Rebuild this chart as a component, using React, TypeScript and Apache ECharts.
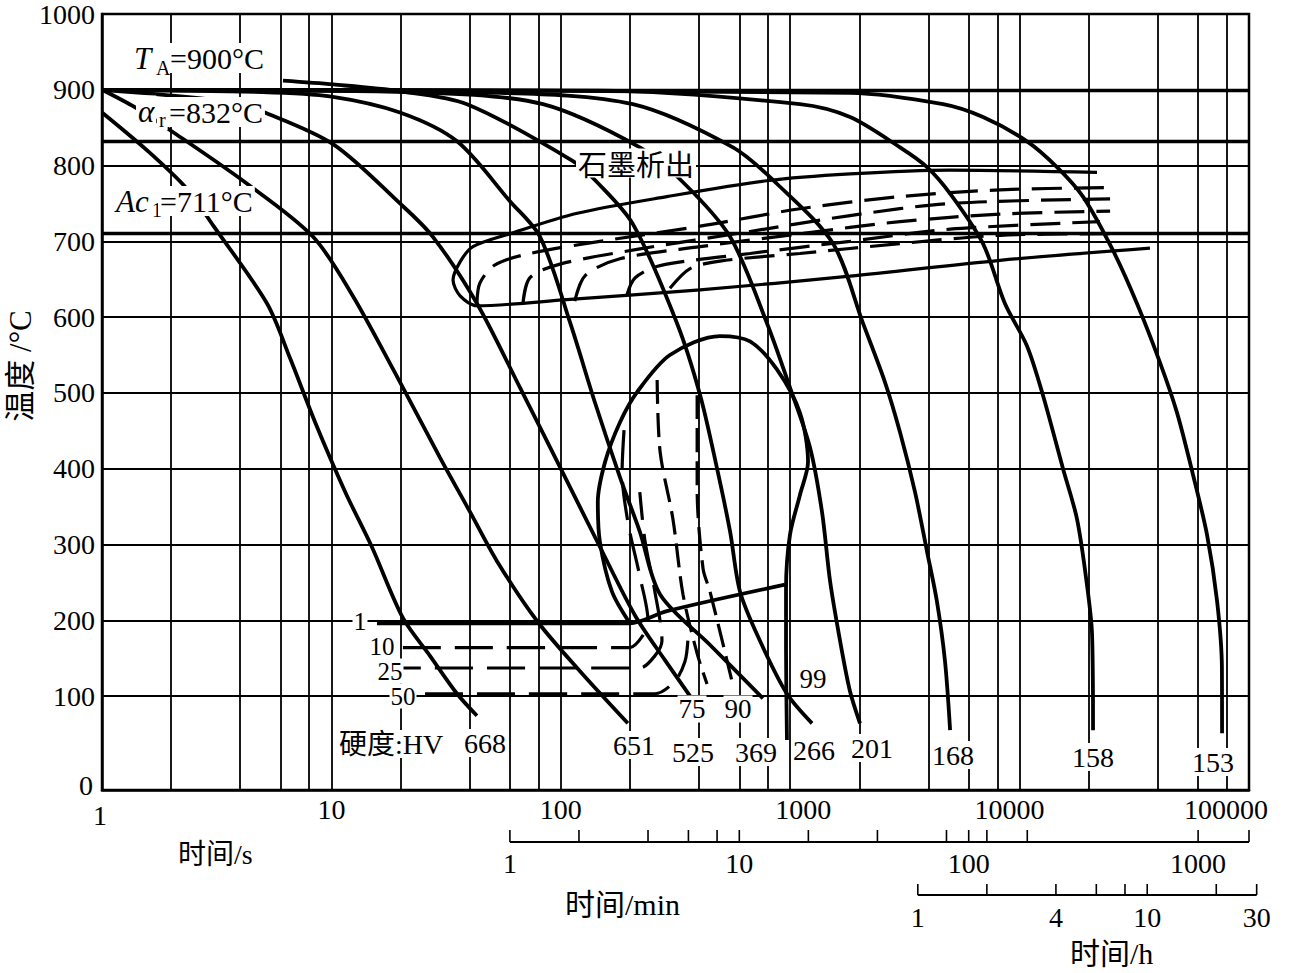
import React, { useEffect, useRef } from "react";
import * as echarts from "echarts";

// ---------- axes ----------
const X_MIN = 1;
const X_MAX = 100000;
const Y_MIN = -24; // bottom border of the drawing (labelled "0")
const Y_MAX = 1000;
const X_MINOR_GRID = [2, 4, 6, 8, 20, 40, 60, 80, 200, 400, 600, 800, 2000, 4000, 6000, 8000, 20000, 40000, 60000, 80000];
const Y_GRID = [100, 200, 300, 400, 500, 600, 700, 800, 900, 1000];
const Y_TICKS = [0, 100, 200, 300, 400, 500, 600, 700, 800, 900, 1000];
const T_A = 900;
const ALPHA_R = 832;
const AC1 = 711;

// secondary time scales
const MIN_TICKS = [1, 2, 4, 6, 8, 10, 20, 40, 80, 100, 120, 180, 1000];
const MIN_LABELS = [1, 10, 100, 1000];
const HOUR_TICKS = [1, 2, 4, 6, 8, 10, 20, 30];
const HOUR_LABELS = [1, 4, 10, 30];

// ---------- cooling curves [time s, temperature °C] ----------
const C668 = [[1, 870], [1.6, 818], [2.35, 769], [3.05, 721], [5.24, 618], [6.6, 546], [8.5, 461], [11.5, 369], [15, 297], [20.5, 203], [26.9, 153], [35.3, 103], [43.1, 74]];
const C651 = [[1, 900], [1.39, 877], [2.02, 845], [4.29, 776], [8.32, 706], [12.4, 628], [18.9, 527], [29.7, 415], [40.2, 343], [52.7, 278], [78.8, 199], [121, 133], [196, 64]];
const C525 = [[1, 900], [3.72, 884], [5.03, 871], [10.2, 828], [19.9, 750], [27.7, 706], [43.1, 618], [66.4, 507], [99.2, 402], [148, 297], [211, 206], [285, 147], [405, 81]];
const C369 = [[1, 900], [5, 897], [10, 891], [19.9, 870], [35.3, 832], [60, 753], [81.2, 706], [110, 592], [141, 487], [181, 389], [221, 317], [271, 234], [452, 166], [761, 97]];
const C266 = [[6.15, 912], [10.2, 907], [19.9, 898], [39, 881], [113, 806], [144, 778], [206, 723], [321, 592], [405, 497], [480, 400], [547, 317], [604, 238], [738, 173], [968, 103], [1245, 64]];
const C201 = [[1, 900], [27, 896], [83.6, 881], [221, 824], [341, 778], [547, 706], [792, 592], [998, 507], [1220, 428], [1376, 343], [1493, 251], [1649, 173], [1820, 107], [2015, 64]];
const C168 = [[1, 900], [54.3, 896], [206, 881], [563, 824], [875, 776], [1537, 697], [2076, 592], [2590, 514], [3011, 448], [3501, 369], [3947, 291], [4360, 225], [4729, 146], [4978, 55]];
const C158 = [[1, 900], [148, 899], [1102, 881], [1823, 864], [3011, 824], [3947, 798], [4978, 763], [6925, 697], [8630, 618], [10770, 562], [12640, 497], [15460, 400], [17780, 334], [19660, 247], [20690, 182], [20900, 55]];
const C153 = [[1, 900], [1823, 896], [4634, 881], [6925, 864], [10770, 832], [14550, 798], [18890, 759], [25530, 688], [32480, 618], [40930, 540], [48540, 474], [57000, 392], [65600, 313], [72600, 225], [76200, 137], [76300, 51]];

// ---------- graphite precipitation zone ----------
const GRAPHITE = [[21750, 791], [4978, 794], [1823, 789], [792, 780], [290, 759], [118, 737], [60, 710], [41.4, 693], [36.4, 673], [33.9, 649], [36.4, 628], [43.1, 615], [106, 623], [405, 636], [1823, 654], [8220, 675], [37000, 691]];
const G1 = [[43.1, 618], [44.4, 645], [51.7, 669], [73.4, 684], [148, 700], [405, 720], [1102, 743], [3011, 759], [8220, 768], [24800, 771]];
const G2 = [[68.4, 618], [73.4, 652], [99.2, 670], [221, 690], [668, 713], [1823, 734], [4978, 750], [24800, 756]];
const G3 = [[115, 621], [128, 655], [181, 677], [405, 693], [1102, 710], [3011, 726], [8220, 736], [24800, 740]];
const G4 = [[194, 629], [211, 652], [271, 668], [668, 684], [1823, 700], [4978, 716], [22400, 726]];
const G5 = [[299, 638], [366, 664], [494, 674], [1102, 684], [3011, 697], [8220, 708], [24800, 710]];

// ---------- bainite / martensite ----------
const BAINITE = [[200, 196], [167, 238], [148, 304], [145, 356], [156, 409], [181, 461], [215, 501], [299, 550], [494, 575], [668, 568], [875, 531], [1102, 474], [1196, 409], [1102, 365], [998, 313], [959, 242], [959, 160], [968, 42]];
const MS1 = [[15.8, 196], [200, 196], [290, 212], [949, 247]];
const M10 = [[20.5, 164], [200, 164], [228, 180], [240, 199], [221, 258], [196, 330], [185, 396], [190, 465]];
const M25 = [[16.8, 137], [221, 137], [257, 153], [276, 173], [257, 238], [233, 304], [221, 369]];
const M50 = [[25.6, 103], [257, 103], [315, 120], [348, 146], [358, 173]];
const B75 = [[263, 517], [271, 422], [308, 334], [341, 234], [393, 156], [434, 116]];
const B90 = [[393, 497], [393, 373], [417, 268], [447, 238], [557, 120]];

const FONT = '"Liberation Serif", "Noto Sans CJK SC", serif';
const CJK = '"Noto Sans CJK SC", "Liberation Serif", sans-serif';

function txt(text: string, x: number, y: number, size: number, opts: any = {}) {
  const bg = opts.bg !== false;
  return {
    type: "text",
    x,
    y,
    z: 100,
    silent: true,
    rotation: opts.rotation || 0,
    style: {
      text,
      font: `${opts.italic ? "italic " : ""}${size}px ${opts.family || FONT}`,
      fill: "#000",
      align: opts.align || "center",
      verticalAlign: "middle",
      backgroundColor: bg ? "#fff" : undefined,
      padding: bg ? (opts.pad ?? [0, 2, 0, 2]) : 0,
    },
  };
}

export default function App() {
  const ref = useRef<HTMLDivElement>(null);
  useEffect(() => {
    const chart = echarts.init(ref.current!, null, { renderer: "svg" });
    const solid = (name: string, data: number[][], width = 3.8) => ({
      type: "line",
      name,
      data,
      showSymbol: false,
      smooth: 0.3,
      silent: true,
      z: 5,
      lineStyle: { color: "#000", width },
      itemStyle: { color: "#000" },
    });
    const dashed = (name: string, data: number[][], dash: number[]) => ({
      ...solid(name, data, 3.2),
      lineStyle: { color: "#000", width: 3.2, type: dash },
    });

    const gridLines = [
      ...X_MINOR_GRID.map((v) => ({ xAxis: v })),
      ...Y_GRID.map((v) => ({ yAxis: v })),
      { yAxis: T_A, lineStyle: { width: 3.4 } },
      { yAxis: ALPHA_R, lineStyle: { width: 3.4 } },
      { yAxis: AC1, lineStyle: { width: 3.4 } },
    ];

    const xPad: Record<number, string> = { 1: "l", 1000: "m", 10000: "q", 100000: "r" };
    const rs = (padding: number[]) => ({ fontFamily: FONT, fontSize: 28, color: "#000", padding });
    const option: any = {
      animation: false,
      backgroundColor: "#fff",
      grid: { left: 102, right: 42, top: 9, bottom: 183, show: true, borderColor: "#000", borderWidth: 2.5 },
      xAxis: {
        type: "log",
        logBase: 10,
        min: X_MIN,
        max: X_MAX,
        axisLine: { show: true, onZero: false, lineStyle: { color: "#000", width: 2.5 } },
        axisTick: { show: false },
        splitLine: { show: true, lineStyle: { color: "#000", width: 1.8 } },
        axisLabel: {
          color: "#000",
          fontFamily: FONT,
          fontSize: 28,
          margin: 5,
          formatter: (v: number) => {
            const r = Math.round(v);
            const k = xPad[r];
            return k ? `{${k}|${r}}` : `${r}`;
          },
          rich: {
            l: rs([6, 4, 0, 0]),
            m: rs([0, 0, 0, 26]),
            q: rs([0, 20, 0, 0]),
            r: rs([0, 46, 0, 0]),
          },
        },
      },
      yAxis: {
        type: "value",
        min: Y_MIN,
        max: Y_MAX,
        axisLine: { show: true, onZero: false, lineStyle: { color: "#000", width: 2.5 } },
        axisTick: { show: false },
        splitLine: { show: false },
        axisLabel: {
          color: "#000",
          fontFamily: FONT,
          fontSize: 28,
          margin: 7,
          customValues: Y_TICKS.map((v) => (v === 0 ? Y_MIN : v)),
          formatter: (v: number) => (v <= Y_MIN + 0.01 ? "{z|0}" : String(Math.round(v))),
          rich: { z: rs([0, 2, 10, 0]) },
        },
      },
      series: [
        {
          ...solid("668", C668),
          markLine: {
            silent: true,
            symbol: ["none", "none"],
            label: { show: false },
            lineStyle: { color: "#000", width: 1.8, type: "solid" },
            data: gridLines,
          },
        },
        solid("651", C651),
        solid("525", C525),
        solid("369", C369),
        solid("266", C266),
        solid("201", C201),
        solid("168", C168),
        solid("158", C158),
        solid("153", C153),
        solid("graphite", GRAPHITE, 3.2),
        dashed("g1", G1, [30, 12]),
        dashed("g2", G2, [30, 12]),
        dashed("g3", G3, [30, 12]),
        dashed("g4", G4, [30, 12]),
        dashed("g5", G5, [30, 12]),
        solid("bainite", BAINITE),
        solid("Ms 1", MS1),
        dashed("10", M10, [38, 14]),
        dashed("25", M25, [38, 14]),
        dashed("50", M50, [38, 14]),
        dashed("75", B75, [24, 9]),
        dashed("90", B90, [24, 9]),
      ],
    };
    chart.setOption(option);

    const px = (t: number) => chart.convertToPixel({ xAxisIndex: 0 }, t) as number;
    const g: any[] = [];
    // minute scale
    const yMin = 842;
    g.push({ type: "line", silent: true, shape: { x1: px(60), y1: yMin, x2: px(X_MAX), y2: yMin }, style: { stroke: "#000", lineWidth: 2 } });
    [...MIN_TICKS.map((m) => m * 60), X_MAX].forEach((s) =>
      g.push({ type: "line", silent: true, shape: { x1: px(s), y1: yMin, x2: px(s), y2: yMin - 12 }, style: { stroke: "#000", lineWidth: 1.6 } })
    );
    MIN_LABELS.forEach((m) => g.push(txt(String(m), px(m * 60), yMin + 21, 28, { bg: false })));
    // hour scale
    const yH = 895;
    g.push({ type: "line", silent: true, shape: { x1: px(3600), y1: yH, x2: px(30 * 3600), y2: yH }, style: { stroke: "#000", lineWidth: 2 } });
    HOUR_TICKS.forEach((h) =>
      g.push({ type: "line", silent: true, shape: { x1: px(h * 3600), y1: yH, x2: px(h * 3600), y2: yH - 11 }, style: { stroke: "#000", lineWidth: 1.6 } })
    );
    HOUR_LABELS.forEach((h) => g.push(txt(String(h), px(h * 3600), yH + 22, 28, { bg: false })));

    // axis names
    g.push(txt("时间/s", 178, 854, 28, { align: "left", bg: false }));
    g.push(txt("时间/min", 565, 904, 30, { align: "left", bg: false }));
    g.push(txt("时间/h", 1070, 953, 30, { align: "left", bg: false }));
    g.push(txt("温度 /°C", 20, 366, 31, { bg: false, rotation: Math.PI / 2 }));

    // critical temperatures
    g.push(txt("T", 134, 58, 31, { italic: true, align: "left", bg: false }));
    g.push(txt("A", 156, 68, 20, { align: "left", bg: false }));
    g.push(txt("=900°C", 168, 58, 30, { align: "left" }));
    g.push(txt("α", 136, 111, 31, { italic: true, align: "left" }));
    g.push(txt("r", 157, 120, 20, { align: "left" }));
    g.push(txt("=832°C", 167, 112, 30, { align: "left" }));
    g.push(txt("Ac", 114, 201, 31, { italic: true, align: "left" }));
    g.push(txt("1", 150, 210, 20, { align: "left" }));
    g.push(txt("=711°C", 158, 201, 30, { align: "left" }));
    g.push(txt("石墨析出", 576, 163, 29, { align: "left", family: CJK }));

    // hardness & fraction labels
    g.push(txt("硬度:HV", 337, 744, 28, { align: "left" }));
    const labels: [string, number, number, number][] = [
      ["668", 485, 743, 28], ["651", 634, 745, 28], ["525", 693, 752, 28], ["369", 756, 752, 28], ["266", 814, 750, 28],
      ["201", 872, 748, 28], ["168", 953, 755, 28], ["158", 1093, 757, 28], ["153", 1213, 762, 28],
      ["75", 692, 709, 27], ["90", 738, 709, 27], ["99", 813, 679, 27],
      ["1", 360, 621, 26], ["10", 382, 646, 25], ["25", 390, 671, 25], ["50", 403, 696, 25],
    ];
    labels.forEach(([t, x, y, s]) => g.push(txt(t, x, y, s, { pad: [0, 1, 0, 1] })));

    chart.setOption({ graphic: g });
    return () => chart.dispose();
  }, []);
  return <div ref={ref} style={{ position: "fixed", left: 0, top: 0, width: 1291, height: 973, background: "#fff" }} />;
}
